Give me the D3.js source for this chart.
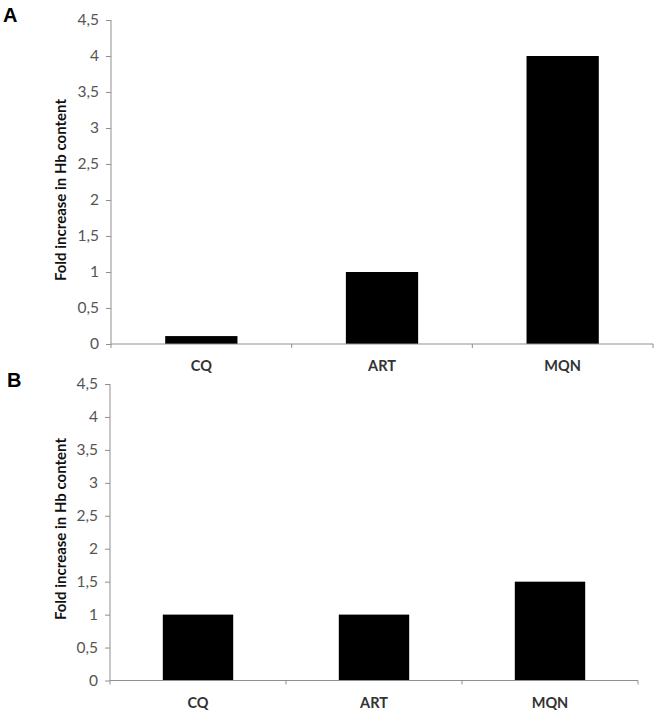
<!DOCTYPE html>
<html>
<head>
<meta charset="utf-8">
<script src="https://cdn.jsdelivr.net/npm/d3@7"></script>
<style>
  body { margin: 0; background: #fff; }
  svg { display: block; }
</style>
</head>
<body>
<div id="chart"></div>
<script>
// données
var categories = ["CQ", "ART", "MQN"];
var valuesA = [0.11, 1, 4];
var valuesB = [1, 1, 1.5];
var yTicks = [0, 0.5, 1, 1.5, 2, 2.5, 3, 3.5, 4, 4.5];
var panelLabels = ["A", "B"];
var yTitle = "Fold increase in Hb content";

var width = 656,
    height = 711;

var svg = d3.select("#chart")
    .append("svg")
    .attr("width", width)
    .attr("height", height);

var axisColor = "#8f8f8f";
var fmt = function (d) { return String(d).replace(".", ","); };

// un panneau = un graphe en barres
function drawPanel(values, label, box) {
    var g = svg.append("g");

    var x = d3.scaleBand()
        .domain(categories)
        .range([box.left, box.right])
        .paddingInner(0.6)
        .paddingOuter(0.3);

    var y = d3.scaleLinear()
        .domain([0, 4.5])
        .range([box.bottom, box.top]);

    // barres
    g.selectAll("rect")
        .data(values)
        .join("rect")
        .attr("x", function (d, i) { return x(categories[i]); })
        .attr("width", x.bandwidth())
        .attr("y", function (d) { return y(d); })
        .attr("height", function (d) { return y(0) - y(d); })
        .attr("fill", "#000");

    // axe y
    var yAxis = g.append("g")
        .attr("transform", "translate(" + box.left + ",0)")
        .call(d3.axisLeft(y).tickValues(yTicks).tickFormat(fmt).tickSize(5).tickSizeOuter(0));
    yAxis.select(".domain").remove();
    yAxis.selectAll("line").attr("stroke", axisColor);
    yAxis.selectAll("text")
        .attr("x", -12)
        .attr("fill", "#555")
        .style("font-family", "Lato, 'Open Sans', sans-serif")
        .style("font-size", "15.5px");

    // ligne verticale (un peu sous le zéro)
    g.append("line")
        .attr("x1", box.left).attr("x2", box.left)
        .attr("y1", box.top).attr("y2", box.bottom + 4)
        .attr("stroke", axisColor);

    // axe x : ligne + graduations aux limites des catégories
    g.append("line")
        .attr("x1", box.left).attr("x2", box.right)
        .attr("y1", box.bottom).attr("y2", box.bottom)
        .attr("stroke", axisColor);

    var step = x.step();
    var bounds = d3.range(1, categories.length + 1).map(function (i) {
        return box.left + i * step;
    });
    g.selectAll(".xtick")
        .data(bounds)
        .join("line")
        .attr("class", "xtick")
        .attr("x1", function (d) { return d; })
        .attr("x2", function (d) { return d; })
        .attr("y1", box.bottom)
        .attr("y2", box.bottom + 4)
        .attr("stroke", axisColor);

    g.selectAll(".xlab")
        .data(categories)
        .join("text")
        .attr("class", "xlab")
        .attr("x", function (d) { return x(d) + x.bandwidth() / 2; })
        .attr("y", box.bottom + 27)
        .attr("text-anchor", "middle")
        .attr("fill", "#333")
        .style("font-family", "Lato, 'Open Sans', sans-serif")
        .style("font-weight", "bold")
        .style("font-size", "14.5px")
        .text(function (d) { return d; });

    // titre de l'axe y
    g.append("text")
        .attr("transform", "translate(" + box.titleX + "," + box.titleY + ") rotate(-90)")
        .attr("text-anchor", "middle")
        .attr("dominant-baseline", "middle")
        .attr("fill", "#111")
        .style("font-family", "Lato, 'Open Sans', sans-serif")
        .style("font-weight", "bold")
        .style("font-size", "15px")
        .text(yTitle);

    // lettre du panneau
    g.append("text")
        .attr("x", box.letterX)
        .attr("y", box.letterY)
        .attr("fill", "#000")
        .style("font-family", "'Liberation Sans', Arial, sans-serif")
        .style("font-weight", "bold")
        .style("font-size", "20px")
        .text(label);
}

drawPanel(valuesA, panelLabels[0], {left: 111, right: 653, top: 20, bottom: 344, titleX: 62, titleY: 190, letterX: 3, letterY: 22});
drawPanel(valuesB, panelLabels[1], {left: 110, right: 638, top: 384, bottom: 680.5, titleX: 62, titleY: 529, letterX: 7, letterY: 387});
</script>
</body>
</html>
